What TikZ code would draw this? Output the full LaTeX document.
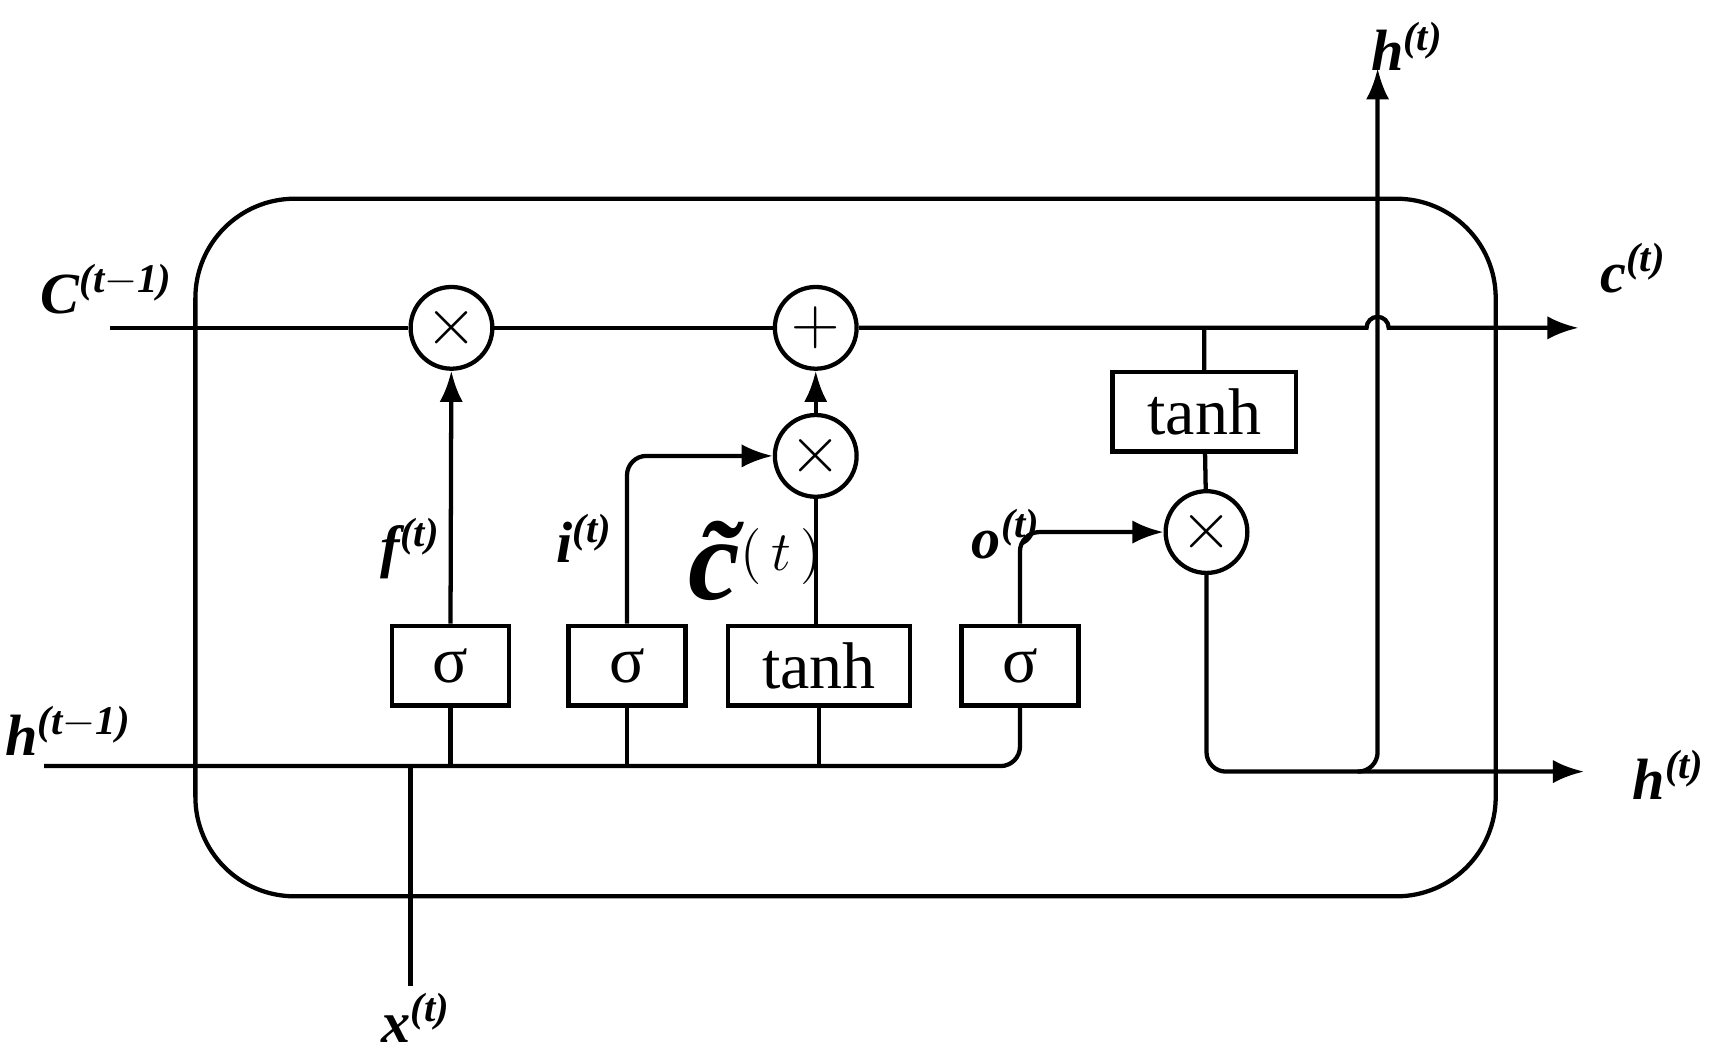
\documentclass[tikz,border=0pt]{standalone}
\usepackage{fontspec}
\setmainfont{Liberation Serif}
\usetikzlibrary{arrows.meta}
\newcommand{\sps}[1]{\textsuperscript{(#1)}}
\begin{document}
\begin{tikzpicture}[x=0.01cm,y=-0.01cm,line width=1.1pt,
  op/.style={draw,circle,minimum size=0.74cm,inner sep=0pt,font=\fontsize{16}{16}\selectfont},
  gate/.style={draw,minimum height=0.72cm,inner sep=0pt,font=\fontsize{17}{17}\selectfont},
  lab/.style={font=\bfseries\itshape\fontsize{15}{15}\selectfont,inner sep=0pt},
  arr/.style={-{Latex[length=8pt,width=6pt]}},
  rc/.style={rounded corners=5pt}]
\useasboundingbox (0,0) rectangle (1560,954);
\draw[rounded corners=0.9cm] (177,180) rectangle (1355,812);
\node[op] (m1) at (409,297) {$\times$};
\node[op] (p1) at (739,297) {$+$};
\node[op] (m2) at (739,413) {$\times$};
\node[op] (m3) at (1093,482) {$\times$};
\node[gate,minimum width=1.06cm] (sf) at (408,603) {σ};
\node[gate,minimum width=1.06cm] (si) at (568,603) {σ};
\node[gate,minimum width=1.65cm] (tc) at (742,603) {tanh};
\node[gate,minimum width=1.06cm] (so) at (924,603) {σ};
\node[gate,minimum width=1.66cm] (tn) at (1091,373) {tanh};
\coordinate (cin) at (100,297);
\coordinate (cout) at (1430,297);
\coordinate (hin) at (40,694);
\coordinate (xin) at (372,893);
\coordinate (hout) at (1435,699);
\coordinate (htop) at (1248,62);
% cell line
\draw (cin) -- (m1) -- (p1);
\draw[arr] (p1) -- (1238,297) arc[start angle=180,end angle=360,radius=10] -- (cout);
\draw (1091,297) -- (tn) -- (m3);
\draw[arr,rc] (m3) -- (1093,699) -- (hout);
\draw[arr,rc] (1230,699) -- (1248,699) -- (htop);
% hidden input
\draw[rc] (hin) -- (924,694) -- (so);
\draw (xin) -- (372,694);
\draw (sf) -- (408,694);
\draw (si) -- (568,694);
\draw (tc) -- (742,694);
\draw[arr] (sf) -- (m1);
\draw[arr,rc] (si) -- (568,413) -- (m2);
\draw (tc.north-|739,0) -- (m2);
\draw[arr] (m2) -- (p1);
\draw[arr,rc] (so) -- (924,482) -- (m3);
% labels
\node[lab] at (97,262) {C\sps{t$-$1}};
\node[lab] at (1480,243) {c\sps{t}};
\node[lab] at (1275,42) {h\sps{t}};
\node[lab] at (62,662) {h\sps{t$-$1}};
\node[lab] at (1512,702) {h\sps{t}};
\node[lab] at (377,922) {x\sps{t}};
\node[lab] at (372,497) {f\sps{t}};
\node[lab] at (530,488) {i\sps{t}};
\node[lab] at (912,484) {o\sps{t}};
\node[inner sep=0pt] at (685,508) {\fontsize{30}{30}\selectfont\bfseries\itshape\~{c}\fontsize{20}{20}\selectfont\normalfont$^{(\,t\,)}$};
\end{tikzpicture}
\end{document}
